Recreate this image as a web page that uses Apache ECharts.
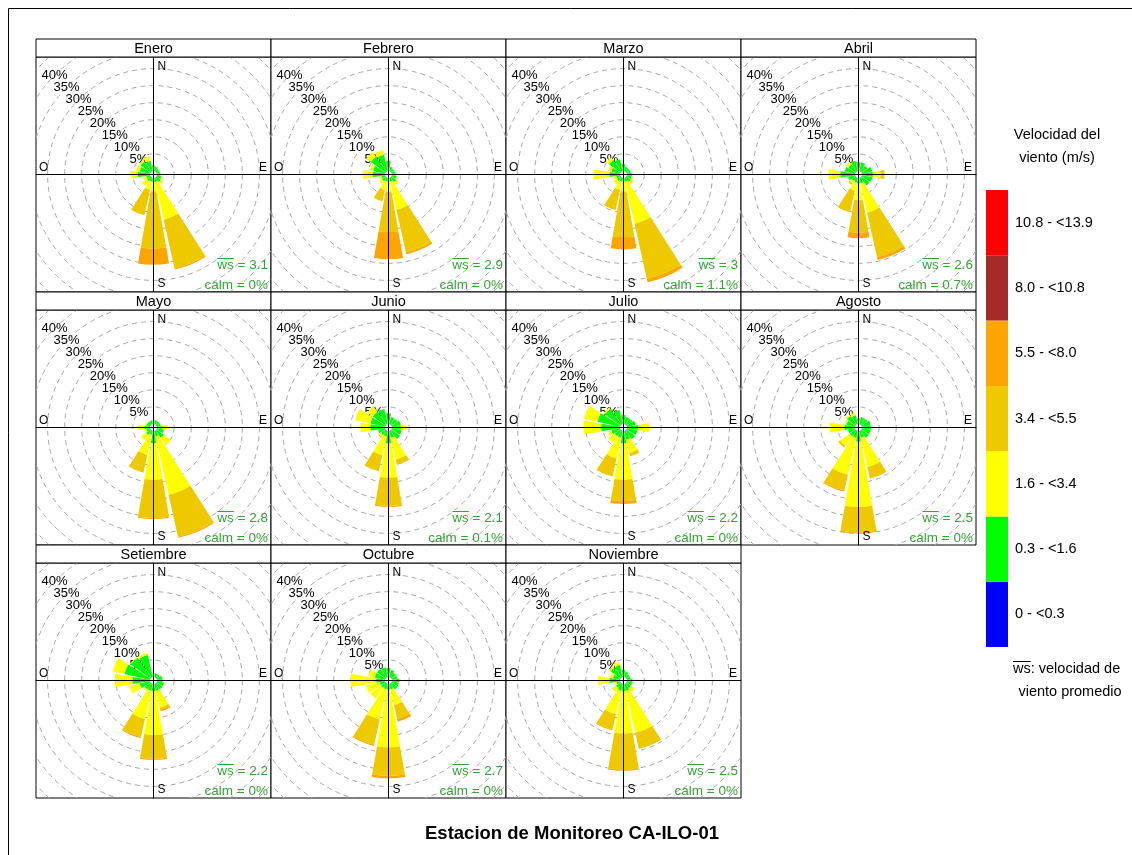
<!DOCTYPE html>
<html>
<head>
<meta charset="utf-8">
<script src="https://cdn.jsdelivr.net/npm/echarts@6/dist/echarts.min.js"></script>
<style>
html, body { margin: 0; padding: 0; background: #fff; }
#chart { width: 1132px; height: 855px; }
</style>
</head>
<body>
<div id="chart"></div>
<script>
// direcciones (16 sectores, cada 22.5 grados desde el norte)
var directions = ['N', 'NNE', 'NE', 'ENE', 'E', 'ESE', 'SE', 'SSE', 'S', 'SSW', 'SW', 'WSW', 'W', 'WNW', 'NW', 'NNW'];
var months = ['Enero', 'Febrero', 'Marzo', 'Abril', 'Mayo', 'Junio', 'Julio', 'Agosto', 'Setiembre', 'Octubre', 'Noviembre'];
var speedBins = ['0 - <0.3', '0.3 - <1.6', '1.6 - <3.4', '3.4 - <5.5', '5.5 - <8.0', '8.0 - <10.8', '10.8 - <13.9'];
var binColors = ['#0000FF', '#00FF00', '#FFFF00', '#EEC900', '#FFA500', '#A52A2A', '#FF0000'];
var ringLevels = [5, 10, 15, 20, 25, 30, 35, 40, 45];
var ringLabels = [5, 10, 15, 20, 25, 30, 35, 40];
var wsMean = [3.1, 2.9, 3, 2.6, 2.8, 2.1, 2.2, 2.5, 2.2, 2.7, 2.5];
var calmPct = [0, 0, 1.1, 0.7, 0, 0.1, 0, 0, 0, 0, 0];

// frecuencia (%) por direccion, una fila por direccion: [0-0.3, 0.3-1.6, 1.6-3.4, 3.4-5.5, 5.5-8.0]
var enero = [
  [0.1, 1.5, 0, 0, 0], [0.1, 1.2, 0, 0, 0], [0.1, 0.8, 0, 0, 0], [0.1, 0.8, 0, 0, 0],
  [0.1, 1.0, 0, 0, 0], [0.1, 1.2, 0.3, 0, 0], [0.1, 1.5, 0.8, 0, 0], [0.1, 1.1, 11.3, 14.7, 0.3],
  [0.1, 1.1, 2.7, 16.8, 4.7], [0.1, 1.0, 2.5, 7.6, 0], [0.1, 1.2, 1.8, 0, 0], [0.1, 1.0, 1.0, 0, 0],
  [0.1, 3.5, 2.1, 0, 0], [0.1, 3.0, 1.0, 0, 0], [0.1, 3.5, 0.5, 0, 0], [0.1, 3.0, 1.4, 0, 0]
];
var febrero = [
  [0.1, 2.9, 0, 0, 0], [0.1, 1.2, 0, 0, 0], [0.1, 0.8, 0, 0, 0], [0.1, 0.8, 0, 0, 0],
  [0.1, 1.0, 0, 0, 0], [0.1, 1.3, 0.3, 0, 0], [0.1, 1.6, 0.9, 0, 0], [0.1, 1.0, 8.5, 12.7, 0.6],
  [0.1, 1.0, 2.8, 11.9, 8.0], [0.1, 1.0, 2.5, 3.4, 0], [0.1, 1.2, 1.0, 0, 0], [0.1, 1.0, 0.8, 0, 0],
  [0.1, 3.5, 2.9, 0, 0], [0.1, 3.5, 1.0, 0, 0], [0.1, 5.2, 1.7, 0, 0], [0.1, 4.8, 1.4, 0, 0]
];
var marzo = [
  [0.1, 2.0, 0, 0, 0], [0.1, 1.2, 0, 0, 0], [0.1, 1.0, 0, 0, 0], [0.1, 1.0, 0, 0, 0],
  [0.1, 1.3, 0, 0, 0], [0.1, 1.3, 0.4, 0, 0], [0.1, 1.5, 0.8, 0, 0], [0.1, 1.0, 12.7, 16.5, 1.0],
  [0.1, 1.0, 2.8, 13.4, 3.6], [0.1, 1.0, 2.5, 6.0, 0], [0.1, 1.2, 1.2, 0, 0], [0.1, 1.0, 1.0, 0, 0],
  [0.1, 3.0, 4.7, 0, 0], [0.1, 2.5, 1.0, 0, 0], [0.1, 4.0, 1.0, 0, 0], [0.1, 3.4, 0, 0, 0]
];
var abril = [
  [0.1, 2.5, 0, 0, 0], [0.1, 2.5, 0, 0, 0], [0.1, 2.0, 0, 0, 0], [0.1, 3.0, 0, 0, 0],
  [0.1, 3.1, 2.2, 1.2, 0], [0.1, 3.0, 0, 0, 0], [0.1, 2.8, 0, 0, 0], [0.1, 1.5, 8.8, 13.4, 0.8],
  [0.1, 1.5, 4.9, 9.5, 1.6], [0.1, 1.2, 2.5, 6.5, 0], [0.1, 1.2, 0.8, 0.5, 0], [0.1, 2.0, 0, 0, 0],
  [0.1, 4.2, 3.5, 0, 0], [0.1, 3.0, 0, 0, 0], [0.1, 2.5, 0.8, 0, 0], [0.1, 3.0, 0, 0, 0]
];
var mayo = [
  [0.1, 1.0, 0, 0, 0], [0.1, 1.0, 0, 0, 0], [0.1, 1.0, 0, 0, 0], [0.1, 1.0, 0, 0, 0],
  [0.1, 1.5, 1.7, 0, 0], [0.1, 2.0, 0, 0, 0], [0.1, 2.5, 2.7, 0, 0], [0.1, 1.5, 17.6, 12.6, 0.3],
  [0.1, 3.5, 10.7, 11.2, 0.3], [0.1, 1.0, 6.1, 5.3, 0], [0.1, 1.5, 1.8, 0, 0], [0.1, 1.0, 0.5, 0, 0],
  [0.1, 1.5, 2.0, 0, 0], [0.1, 1.0, 0.5, 0, 0], [0.1, 1.0, 0, 0, 0], [0.1, 1.0, 0, 0, 0]
];
var junio = [
  [0.1, 3.0, 0, 0, 0], [0.1, 2.0, 0, 0, 0], [0.1, 2.0, 0, 0, 0], [0.1, 2.5, 0, 0, 0],
  [0.1, 2.5, 1.6, 0, 0], [0.1, 2.8, 0, 0, 0], [0.1, 3.0, 0, 0, 0], [0.1, 2.0, 6.5, 1.5, 0],
  [0.1, 3.5, 10.1, 8.2, 0.3], [0.1, 1.5, 5.7, 4.8, 0], [0.1, 1.5, 0.8, 0, 0.2], [0.1, 2.0, 0, 0, 0],
  [0.1, 4.2, 2.9, 0, 0], [0.1, 4.3, 4.6, 0, 0], [0.1, 4.5, 2.0, 0, 0], [0.1, 4.4, 0, 0, 0]
];
var julio = [
  [0.1, 2.5, 0, 0, 0], [0.1, 2.0, 0, 0, 0], [0.1, 2.0, 0, 0, 0], [0.1, 2.5, 0, 0, 0],
  [0.1, 3.1, 3.4, 0, 0], [0.1, 3.0, 0, 0, 0], [0.1, 3.0, 0, 0, 0], [0.1, 2.5, 4.0, 1.0, 0],
  [0.1, 3.5, 10.7, 6.2, 0.9], [0.1, 2.0, 6.1, 5.5, 0], [0.1, 2.0, 2.3, 0, 0], [0.1, 2.5, 1.0, 0, 0],
  [0.1, 5.4, 5.2, 0, 0], [0.1, 6.7, 4.0, 0, 0], [0.1, 5.5, 0.5, 0, 0], [0.1, 4.2, 0, 0, 0]
];
var agosto = [
  [0.1, 1.5, 0, 0, 0], [0.1, 2.0, 0, 0, 0], [0.1, 2.0, 0, 0, 0], [0.1, 2.5, 0, 0, 0],
  [0.1, 2.5, 0, 0, 0], [0.1, 2.5, 0, 0, 0], [0.1, 2.5, 0, 0, 0], [0.1, 2.0, 8.7, 3.5, 0],
  [0.1, 3.0, 19.1, 7.5, 0.3], [0.1, 2.0, 11.1, 4.7, 0.3], [0.1, 2.0, 3.5, 0.6, 0], [0.1, 2.0, 0, 0, 0],
  [0.1, 3.0, 4.4, 0, 0], [0.1, 2.5, 0.5, 0, 0], [0.1, 3.0, 0.5, 0, 0], [0.1, 2.5, 0.8, 0, 0]
];
var setiembre = [
  [0.1, 1.0, 0, 0, 0], [0.1, 1.0, 0, 0, 0], [0.1, 1.0, 0, 0, 0], [0.1, 1.5, 0, 0, 0],
  [0.1, 1.5, 0, 0, 0], [0.1, 2.0, 0, 0, 0], [0.1, 2.0, 0, 0, 0], [0.1, 2.0, 5.0, 0.6, 0.5],
  [0.1, 2.0, 12.9, 6.9, 0.3], [0.1, 2.0, 8.4, 5.4, 0.3], [0.1, 2.0, 0.5, 0, 0], [0.1, 3.0, 3.1, 0, 0],
  [0.1, 5.0, 5.3, 0, 0], [0.1, 7.6, 3.5, 0, 0], [0.1, 7.0, 0.3, 0, 0], [0.1, 6.5, 0.7, 0, 0]
];
var octubre = [
  [0.1, 2.5, 0, 0, 0], [0.1, 2.0, 0, 0, 0], [0.1, 1.5, 0, 0, 0], [0.1, 1.5, 0, 0, 0],
  [0.1, 2.0, 0, 0, 0], [0.1, 2.0, 0, 0, 0], [0.1, 2.0, 0, 0, 0], [0.1, 1.5, 4.7, 4.2, 0.8],
  [0.1, 1.5, 17.0, 8.3, 0.8], [0.1, 1.5, 9.1, 7.5, 0.4], [0.1, 1.5, 3.9, 0, 0], [0.1, 1.5, 4.1, 0, 0],
  [0.1, 2.5, 7.5, 0, 0], [0.1, 3.0, 1.9, 0, 0], [0.1, 3.0, 0, 0, 0], [0.1, 2.8, 0, 0, 0]
];
var noviembre = [
  [0.1, 2.0, 0, 0, 0], [0.1, 1.5, 0, 0, 0], [0.1, 1.0, 0, 0, 0], [0.1, 1.0, 0, 0, 0],
  [0.1, 1.5, 0, 0, 0], [0.1, 1.5, 0, 0, 0], [0.1, 1.5, 1.5, 0, 0], [0.1, 2.0, 12.6, 4.8, 0],
  [0.1, 2.0, 12.4, 10.6, 0.3], [0.1, 2.0, 7.0, 4.9, 0], [0.1, 1.5, 1.5, 0, 0], [0.1, 1.0, 0.5, 0, 0],
  [0.1, 3.0, 3.4, 0, 0], [0.1, 2.0, 1.0, 0, 0], [0.1, 3.5, 0.5, 0, 0], [0.1, 3.5, 1.0, 0, 0]
];
var monthData = [enero, febrero, marzo, abril, mayo, junio, julio, agosto, setiembre, octubre, noviembre];

// layout
var PANEL_W = 235, HEAD_H = 18, BODY_H = 235, ROW_STEP = 253;
var LEFT0 = 36, TOP0 = 39;
var PX_PER_PCT = 3.41;     // escala radial
var HOLE = 1.06;           // hueco central (en %)
var SEG = 0.88;            // ancho relativo de cada sector
var HALF = (PANEL_W / 2) / PX_PER_PCT;
var FONT = '"Liberation Sans", Arial, sans-serif';
var GREEN_TXT = '#37A337';

var chart = echarts.init(document.getElementById('chart'));

var measureCtx = document.createElement('canvas').getContext('2d');
function textWidth(s, font) {
    measureCtx.font = font;
    return measureCtx.measureText(s).width;
}

function txt(text, x, y, font, align, color) {
    return {
        type: 'text', x: x, y: y, z: 11,
        style: { text: text, font: font, fill: color || '#000', align: align, verticalAlign: 'middle', textAlign: align, textVerticalAlign: 'middle' }
    };
}

function renderRing(params, api) {
    var v = api.value(0);
    var c = api.coord([0, 0]);
    var r = api.size([HOLE + v, 0])[0];
    var k = r / Math.SQRT2;
    var children = [{
        type: 'circle',
        shape: { cx: c[0], cy: c[1], r: r },
        style: { fill: 'none', stroke: '#a8a8a8', lineWidth: 1, lineDash: [5, 4] }
    }];
    if (ringLabels.indexOf(v) >= 0) {
        children.push({
            type: 'text',
            x: c[0] - k, y: c[1] - k,
            style: { text: v + '%', fill: '#000', font: '13px ' + FONT, align: 'center', verticalAlign: 'middle', textAlign: 'center', textVerticalAlign: 'middle' }
        });
    }
    return { type: 'group', children: children };
}

function renderPetal(params, api) {
    var d = api.value(0), a = api.value(1), b = api.value(2), bin = api.value(3);
    var c = api.coord([0, 0]);
    var r0 = api.size([HOLE + a, 0])[0];
    var r1 = api.size([HOLE + b, 0])[0];
    var step = 360 / directions.length;
    var mid = d * step - 90, half = step * SEG / 2;
    return {
        type: 'sector',
        shape: {
            cx: c[0], cy: c[1], r0: r0, r: r1,
            startAngle: (mid - half) * Math.PI / 180,
            endAngle: (mid + half) * Math.PI / 180,
            clockwise: true
        },
        style: { fill: binColors[bin] }
    };
}

var grids = [], xAxes = [], yAxes = [], series = [], graphics = [];

// marco general
graphics.push({ type: 'rect', shape: { x: 8.5, y: 8.5, width: 1200, height: 900 }, style: { fill: 'none', stroke: '#000', lineWidth: 1 }, z: 0 });

months.forEach(function (name, i) {
    var col = i % 4, row = Math.floor(i / 4);
    var left = LEFT0 + col * PANEL_W, top = TOP0 + row * ROW_STEP;
    var bodyTop = top + HEAD_H;
    var cx = left + PANEL_W / 2, cy = bodyTop + BODY_H / 2;
    var right = left + PANEL_W, bottom = bodyTop + BODY_H;

    grids.push({ left: left, top: bodyTop, width: PANEL_W, height: BODY_H, show: true, borderColor: '#000', borderWidth: 1, backgroundColor: '#fff' });
    var axisCommon = {
        gridIndex: i, type: 'value', min: -HALF, max: HALF, z: 5,
        axisLine: { onZero: true, lineStyle: { color: '#000', width: 1 } },
        axisTick: { show: false }, axisLabel: { show: false }, splitLine: { show: false }
    };
    xAxes.push(Object.assign({}, axisCommon));
    yAxes.push(Object.assign({}, axisCommon));

    // anillos de frecuencia
    series.push({
        type: 'custom', xAxisIndex: i, yAxisIndex: i, clip: true, silent: true, z: 1,
        renderItem: renderRing,
        data: ringLevels.map(function (v) { return [v, 0]; })
    });

    // petalos apilados por rango de velocidad
    var petals = [];
    monthData[i].forEach(function (bins, d) {
        var acc = 0;
        bins.forEach(function (v, b) {
            if (v > 0) {
                petals.push([d, acc, acc + v, b]);
                acc += v;
            }
        });
    });
    series.push({
        type: 'custom', xAxisIndex: i, yAxisIndex: i, clip: true, silent: true, z: 2,
        renderItem: renderPetal,
        data: petals
    });

    // cabecera
    graphics.push({ type: 'rect', shape: { x: left, y: top, width: PANEL_W, height: HEAD_H }, style: { fill: '#fff', stroke: '#000', lineWidth: 1 }, z: 10 });
    graphics.push(txt(name, cx, top + HEAD_H / 2 + 0.5, '14.5px ' + FONT, 'center'));

    // puntos cardinales
    var cardFont = '12px ' + FONT;
    graphics.push(txt('N', cx + 4, bodyTop + 10, cardFont, 'left'));
    graphics.push(txt('S', cx + 4, bottom - 8, cardFont, 'left'));
    graphics.push(txt('O', left + 3, cy - 7, cardFont, 'left'));
    graphics.push(txt('E', right - 4, cy - 7, cardFont, 'right'));

    // velocidad media y calmas
    var smallFont = '13.5px ' + FONT;
    var wsRest = ' = ' + wsMean[i];
    var wRest = textWidth(wsRest, smallFont), wWs = textWidth('ws', smallFont);
    var wsY = bottom - 27;
    graphics.push(txt('ws' + wsRest, right - 3, wsY, smallFont, 'right', GREEN_TXT));
    graphics.push({ type: 'line', shape: { x1: right - 3 - wRest - wWs, y1: wsY - 6.5, x2: right - 3 - wRest, y2: wsY - 6.5 }, style: { stroke: GREEN_TXT, lineWidth: 1 }, z: 11 });
    graphics.push(txt('calm = ' + calmPct[i] + '%', right - 3, bottom - 7, smallFont, 'right', GREEN_TXT));
});

// leyenda de velocidades
var LEG_X = 986, LEG_TOP = 190, LEG_W = 22, LEG_H = 65.3;
var legFont = '14.5px ' + FONT;
speedBins.forEach(function (label, b) {
    var y = LEG_TOP + (speedBins.length - 1 - b) * LEG_H;
    graphics.push({ type: 'rect', shape: { x: LEG_X, y: y, width: LEG_W, height: LEG_H }, style: { fill: binColors[b] }, z: 11 });
    graphics.push(txt(label, LEG_X + 29, y + LEG_H / 2, legFont, 'left'));
});
graphics.push(txt('Velocidad del', 1057, 135, legFont, 'center'));
graphics.push(txt('viento (m/s)', 1057, 158, legFont, 'center'));
var legWs = textWidth('ws', legFont);
graphics.push(txt('ws: velocidad de', 1013, 669, legFont, 'left'));
graphics.push({ type: 'line', shape: { x1: 1013, y1: 661.5, x2: 1013 + legWs, y2: 661.5 }, style: { stroke: '#000', lineWidth: 1 }, z: 11 });
graphics.push(txt('viento promedio', 1070, 692, legFont, 'center'));

// titulo
graphics.push(txt('Estacion de Monitoreo CA-ILO-01', 572, 834, 'bold 18.5px ' + FONT, 'center'));

chart.setOption({
    animation: false,
    backgroundColor: '#fff',
    grid: grids,
    xAxis: xAxes,
    yAxis: yAxes,
    series: series,
    graphic: { elements: graphics }
});
</script>
</body>
</html>
